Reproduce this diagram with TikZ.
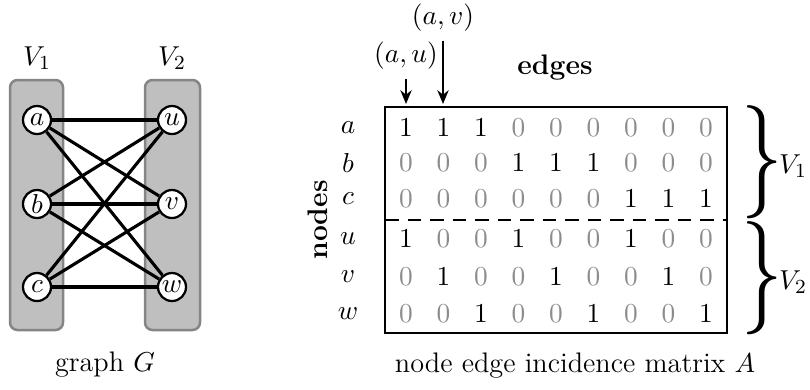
\documentclass[tikz,border=0pt]{standalone}
\usepackage{graphicx}
\usetikzlibrary{arrows.meta}
\begin{document}
\begin{tikzpicture}[x=0.4pt,y=-0.4pt,
  font=\fontsize{11.3}{13.6}\selectfont,
  part/.style={draw=black!48, fill=black!25, line width=1pt, rounded corners=3pt},
  vert/.style={circle, draw, fill=white, line width=0.9pt, inner sep=0pt, minimum size=11.2pt},
  gedge/.style={line width=1.25pt},
  e1/.style={text=black, inner sep=0pt},
  e0/.style={text=black!45, inner sep=0pt},
  rowlab/.style={inner sep=0pt},
  pointer/.style={line width=1.1pt, -{Stealth[length=5.5pt,width=4.5pt]}},
  bigbrace/.style={inner sep=0pt},
  frame/.style={line width=1.15pt}]
\useasboundingbox (0,0) rectangle (810,389);

% ---------- graph G ----------
\draw[part] (10,80) rectangle (63,330);
\draw[part] (145,80) rectangle (200,330);
\node (V1) at (37,58) {$V_1$};
\node (V2) at (172,58) {$V_2$};
\node[vert] (a) at (37,120) {$a$};
\node[vert] (b) at (37,204) {$b$};
\node[vert] (c) at (37,287) {$c$};
\node[vert] (u) at (172,120) {$u$};
\node[vert] (v) at (172,204) {$v$};
\node[vert] (w) at (172,287) {$w$};
\foreach \s in {a,b,c}
  \foreach \t in {u,v,w}
    \draw[gedge] (\s) -- (\t);
\node (gG) at (105,365) {graph $G$};

% ---------- incidence matrix ----------
\draw[frame] (385,107) rectangle (727,333);
\draw[frame, dash pattern=on 5.5pt off 3.5pt] (385,220) -- (727,220);

\foreach \r/\yy/\vals in {
  a/128/{1,1,1,0,0,0,0,0,0},
  b/163/{0,0,0,1,1,1,0,0,0},
  c/199/{0,0,0,0,0,0,1,1,1},
  u/239/{1,0,0,1,0,0,1,0,0},
  v/277/{0,1,0,0,1,0,0,1,0},
  w/314/{0,0,1,0,0,1,0,0,1}} {
  \node[rowlab] (r-\r) at (348,\yy) {$\r$};
  \foreach \v [count=\j] in \vals
    \node[e\v] (m-\r-\j) at ({406+37.5*(\j-1)},\yy) {$\v$};
}

\node[font=\fontsize{11.3}{13.6}\selectfont\bfseries, rotate=90] (nodes) at (318,220) {nodes};
\node[font=\fontsize{11.3}{13.6}\selectfont\bfseries] (edges) at (555,68) {edges};

\node (lau) at (406,56) {$(a,u)$};
\node (lav) at (443,18) {$(a,v)$};
\coordinate (pau) at (406,104);
\coordinate (pav) at (443,104);
\draw[pointer] (lau) -- (pau);
\draw[pointer] (lav) -- (pav);

\node[bigbrace] (br1) at (762,162) {\scalebox{1.33}[1.82]{\Huge$\}$}};
\node[inner sep=0pt] (lv1) at (793,166) {$V_1$};
\node[bigbrace] (br2) at (762,278) {\scalebox{1.33}[1.82]{\Huge$\}$}};
\node[inner sep=0pt] (lv2) at (793,282) {$V_2$};

\node (cap) at (575,366) {node edge incidence matrix $A$};
\end{tikzpicture}
\end{document}
